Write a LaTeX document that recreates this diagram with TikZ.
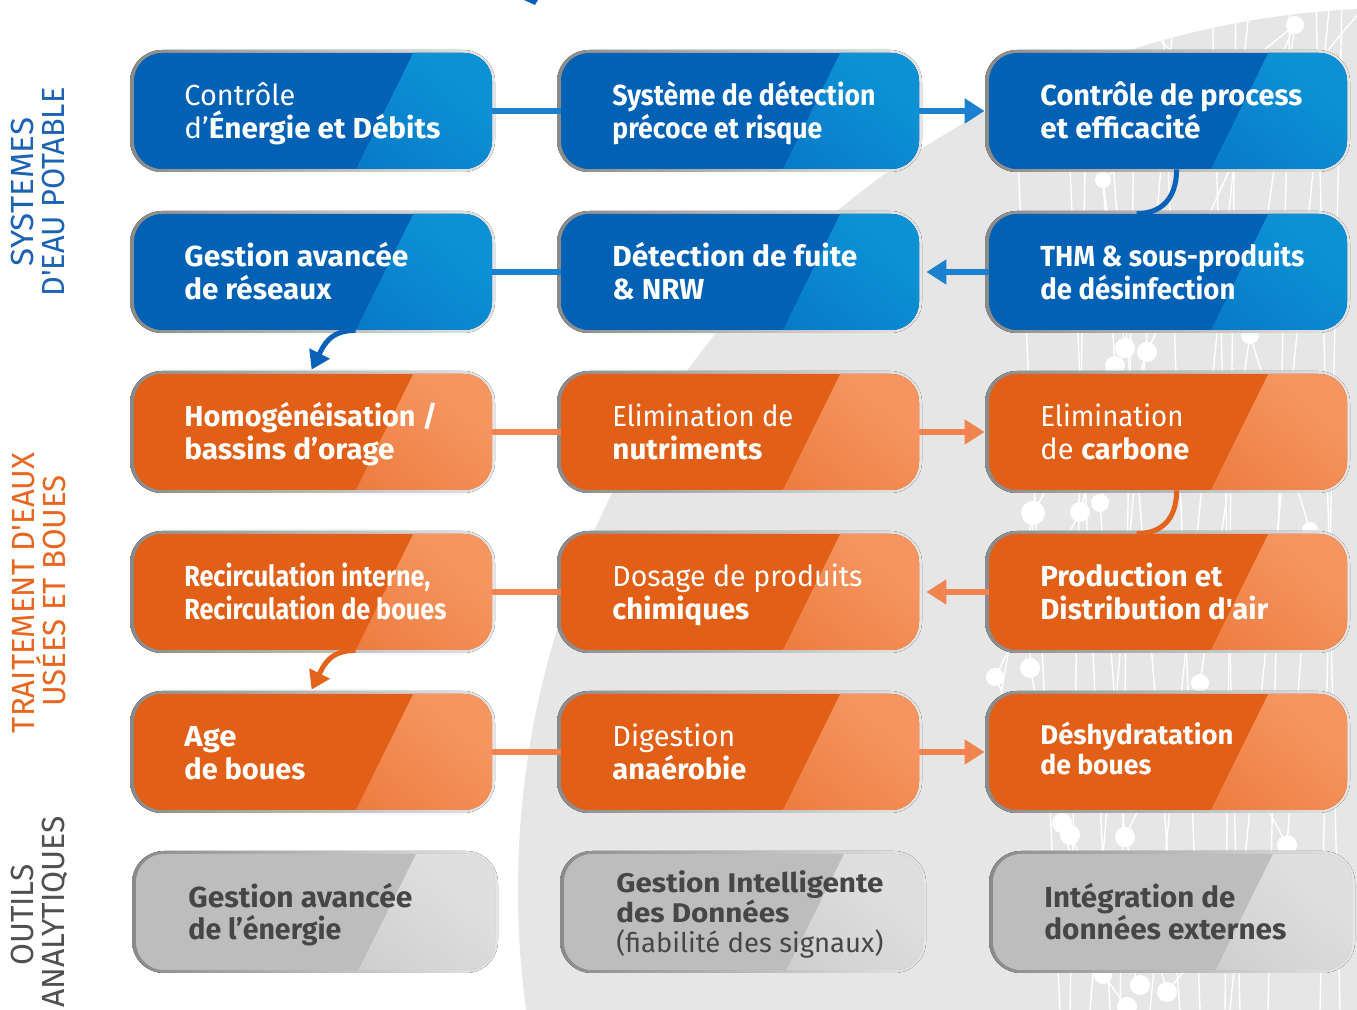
\documentclass[tikz,border=0pt]{standalone}
\usepackage{fontspec}
\usepackage{graphicx}
\setmainfont{Fira Sans}[Ligatures=TeXOff]
\newcommand\flight{\mdseries}
\newcommand\fsemi{\bfseries}
\usetikzlibrary{arrows.meta,calc,fit}

\definecolor{bbase}{HTML}{0061B5}
\definecolor{bmid}{HTML}{0568C0}
\definecolor{blight}{HTML}{0C91D4}
\definecolor{obase}{HTML}{E15F16}
\definecolor{omid}{HTML}{E66A28}
\definecolor{olight}{HTML}{F5955F}
\definecolor{gbase}{HTML}{BDBDBD}
\definecolor{gmid}{HTML}{C2C2C2}
\definecolor{glight}{HTML}{DFDFDF}
\definecolor{bordL}{HTML}{8A8A8A}
\definecolor{bordM}{HTML}{B5B5B5}
\definecolor{bordR}{HTML}{E6E6E6}
\definecolor{bgc}{HTML}{E6E6E6}
\definecolor{sideblue}{HTML}{1C63B4}
\definecolor{sideorange}{HTML}{E8661E}
\definecolor{sidegrey}{HTML}{505050}
\definecolor{gtext}{HTML}{464646}
\definecolor{bcon}{HTML}{1A80CF}
\definecolor{bcur}{HTML}{0A62B8}
\definecolor{ocon}{HTML}{F0834E}
\definecolor{ocur}{HTML}{E3621C}

\newcommand\W[2]{\resizebox{#1}{\height}{#2}}

% #1 name, #2 x1, #3 y1, #4 x2, #5 y2, #6 base, #7 mid, #8 light
\newcommand\panel[8]{%
  \fill[rounded corners=16pt, left color=bordL, middle color=bordM, right color=bordR] (#2,#3) rectangle (#4,#5);
  \node[inner sep=0pt, fit={(#2+4,#3+3) (#4-3,#5-3)}, rounded corners=14pt, fill=#6,
    path picture={\fill[sharp corners, top color=#8, bottom color=#7, shading angle=-40]
      ($(path picture bounding box.north west)!0.78!(path picture bounding box.north east)$) --
      (path picture bounding box.north east) -- (path picture bounding box.south east) --
      ($(path picture bounding box.south west)!0.62!(path picture bounding box.south east)$) -- cycle;}] (#1) {};
}

\begin{document}
\begin{tikzpicture}[x=0.5pt,y=-0.5pt,
  txt/.style={inner sep=0pt, anchor=base west, font=\fontsize{14.5}{16}\selectfont},
  stxt/.style={inner sep=0pt, anchor=base west, font=\fontsize{13.5}{15}\selectfont},
  wt/.style={txt, text=white},
  swt/.style={stxt, text=white},
  gt/.style={txt, text=gtext},
  sgt/.style={stxt, text=gtext},
  side/.style={inner sep=0pt, anchor=base, rotate=90, font=\flight\fontsize{16}{18}\selectfont},
  con/.style={line width=3pt},
  tip/.style={-{Triangle[length=10pt,width=12pt]}},
  cur/.style={line width=2.5pt},
  curtip/.style={-{Triangle[length=9pt,width=11pt]}},
  net/.style={white, line width=0.7pt},
  dot/.style={white}
]
\useasboundingbox (0,0) rectangle (1357,1010);
\fill[white] (0,0) rectangle (1357,1010);

% background circle with network
\begin{scope}
  \clip (0,0) rectangle (1357,1010);
  \fill[bgc] (1400,890) circle [radius=882];
  \clip (1400,890) circle [radius=882];
  \foreach \a/\b in {1010/1060, 1062/1110, 1088/1070, 1136/1120,
                     1162/1200, 1212/1240, 1236/1225, 1290/1268,
                     1316/1340, 1342/1320, 1100/1180, 1250/1150, 1330/1230, 1175/1090}
    \draw[net] (\a,0) -- (\b,1010);
  \foreach \xa/\ya/\xb/\yb in {1295/25/1103/180, 1295/25/1250/335, 1295/25/1147/352, 1103/180/1115/366,
                     1103/180/1125/348, 1125/348/1080/512, 1147/352/1100/503, 1250/335/1200/683,
                     1250/335/1310/530, 1115/366/1033/513, 1033/513/1030/668, 1080/512/995/677,
                     1100/503/1125/837, 1030/668/1062/823, 995/677/1070/835, 1200/683/1287/845,
                     1200/683/1125/837, 1062/823/1103/975, 1070/835/1140/985, 1125/837/1167/992,
                     1287/845/1167/992, 1103/975/1127/1007, 1310/530/1287/845, 1160/40/1180/60,
                     1357/15/1320/60, 1033/513/1000/700}
    \draw[net] (\xa,\ya) -- (\xb,\yb);
  \foreach \xa/\ya/\r in {1295/25/9, 1103/180/8, 1125/348/10, 1147/352/10, 1115/366/10, 1250/335/9,
                     1033/513/12, 1080/512/10, 1100/503/9, 1310/530/8, 1030/668/10, 995/677/9,
                     1200/683/9, 1062/823/10, 1070/835/10, 1125/837/10, 1287/845/10,
                     1103/975/9, 1140/985/10, 1167/992/10, 1127/1007/10}
    \fill[dot] (\xa,\ya) circle [radius=\r];
\end{scope}

% cut-off arrow tip at the top
\fill[bcur] (524,0) -- (538,0) -- (535,5) -- cycle;

% side labels
\node[side, text=sideblue] (s1a) at (34,192) {\W{74.5pt}{SYSTEMES}};
\node[side, text=sideblue] (s1b) at (65,192) {\W{104.5pt}{D'EAU POTABLE}};
\node[side, text=sideorange] (s2a) at (34,593) {\W{140pt}{TRAITEMENT D'EAUX}};
\node[side, text=sideorange] (s2b) at (65,591) {\W{116pt}{USÉES ET BOUES}};
\node[side, text=sidegrey] (s3a) at (34,915) {\W{50.5pt}{OUTILS}};
\node[side, text=sidegrey] (s3b) at (65,912) {\W{96pt}{ANALYTIQUES}};

% panels
\panel{b1}{130}{50}{495}{172}{bbase}{bmid}{blight}
\panel{b2}{557}{50}{922}{172}{bbase}{bmid}{blight}
\panel{b3}{985}{50}{1350}{172}{bbase}{bmid}{blight}
\panel{c1}{130}{211}{495}{333}{bbase}{bmid}{blight}
\panel{c2}{557}{211}{922}{333}{bbase}{bmid}{blight}
\panel{c3}{985}{211}{1350}{333}{bbase}{bmid}{blight}
\panel{d1}{130}{371}{495}{493}{obase}{omid}{olight}
\panel{d2}{557}{371}{922}{493}{obase}{omid}{olight}
\panel{d3}{985}{371}{1350}{493}{obase}{omid}{olight}
\panel{e1}{130}{531}{495}{653}{obase}{omid}{olight}
\panel{e2}{557}{531}{922}{653}{obase}{omid}{olight}
\panel{e3}{985}{531}{1350}{653}{obase}{omid}{olight}
\panel{f1}{130}{691}{495}{813}{obase}{omid}{olight}
\panel{f2}{557}{691}{922}{813}{obase}{omid}{olight}
\panel{f3}{985}{691}{1350}{813}{obase}{omid}{olight}
\panel{g1}{132}{851}{498}{973}{gbase}{gmid}{glight}
\panel{g2}{560}{851}{926}{973}{gbase}{gmid}{glight}
\panel{g3}{989}{851}{1355}{973}{gbase}{gmid}{glight}

% texts
\node[wt] (b1t1) at (184,106) {\flight\W{55.5pt}{Contrôle}};
\node[wt] (b1t2) at (184,139) {\W{128pt}{{\flight d’}\fsemi Énergie et Débits}};
\node[wt] (b2t1) at (612,106) {\fsemi\W{131.5pt}{Système de détection}};
\node[wt] (b2t2) at (612,139) {\fsemi\W{105pt}{précoce et risque}};
\node[wt] (b3t1) at (1040,106) {\fsemi\W{131pt}{Contrôle de process}};
\node[wt] (b3t2) at (1040,139) {\fsemi\W{80pt}{et efficacité}};

\node[wt] (c1t1) at (184,267) {\fsemi\W{112pt}{Gestion avancée}};
\node[wt] (c1t2) at (184,300) {\fsemi\W{73.5pt}{de réseaux}};
\node[wt] (c2t1) at (612,267) {\fsemi\W{122.5pt}{Détection de fuite}};
\node[wt] (c2t2) at (612,300) {\fsemi\W{46pt}{\& NRW}};
\node[wt] (c3t1) at (1040,267) {\fsemi\W{132pt}{THM \& sous-produits}};
\node[wt] (c3t2) at (1040,300) {\fsemi\W{97.5pt}{de désinfection}};

\node[wt] (d1t1) at (184,427) {\fsemi\W{126.5pt}{Homogénéisation /}};
\node[wt] (d1t2) at (184,460) {\fsemi\W{105pt}{bassins d’orage}};
\node[wt] (d2t1) at (612,427) {\flight\W{90.5pt}{Elimination de}};
\node[wt] (d2t2) at (612,460) {\fsemi\W{75pt}{nutriments}};
\node[wt] (d3t1) at (1040,427) {\flight\W{71.5pt}{Elimination}};
\node[wt] (d3t2) at (1040,460) {\W{74.5pt}{{\flight de }\fsemi carbone}};

\node[wt] (e1t1) at (184,587) {\fsemi\W{123pt}{Recirculation interne,}};
\node[wt] (e1t2) at (184,620) {\fsemi\W{131pt}{Recirculation de boues}};
\node[wt] (e2t1) at (612,587) {\flight\W{125pt}{Dosage de produits}};
\node[wt] (e2t2) at (612,620) {\fsemi\W{68.5pt}{chimiques}};
\node[wt] (e3t1) at (1040,587) {\fsemi\W{91pt}{Production et}};
\node[wt] (e3t2) at (1040,620) {\fsemi\W{114pt}{Distribution d'air}};

\node[wt] (f1t1) at (184,747) {\fsemi\W{26pt}{Age}};
\node[wt] (f1t2) at (184,780) {\fsemi\W{60.5pt}{de boues}};
\node[wt] (f2t1) at (612,747) {\flight\W{61.5pt}{Digestion}};
\node[wt] (f2t2) at (612,780) {\fsemi\W{67pt}{anaérobie}};
\node[swt] (f3t1) at (1040,745) {\fsemi\W{96.5pt}{Déshydratation}};
\node[swt] (f3t2) at (1040,775) {\fsemi\W{55.5pt}{de boues}};

\node[gt] (g1t1) at (188,907) {\fsemi\W{112pt}{Gestion avancée}};
\node[gt] (g1t2) at (188,940) {\fsemi\W{76.5pt}{de l’énergie}};
\node[sgt] (g2t1) at (616,893) {\fsemi\W{133.5pt}{Gestion Intelligente}};
\node[sgt] (g2t2) at (616,923) {\fsemi\W{86.5pt}{des Données}};
\node[sgt] (g2t3) at (616,953) {\flight\W{133.5pt}{(fiabilité des signaux)}};
\node[gt] (g3t1) at (1044,907) {\fsemi\W{95.5pt}{Intégration de}};
\node[gt] (g3t2) at (1044,940) {\fsemi\W{121pt}{données externes}};

% connectors: row 1-2 (blue)
\draw[con, bcon] (b1.east) -- (b2.west);
\draw[con, bcon, tip, shorten >=2pt] (b2.east) -- (b3.west);
\draw[cur, bcur] ($(b3.south west)+(188,0)$) .. controls ($(b3.south west)+(188,30)$) and ($(c3.north west)+(172,0)$) .. ($(c3.north west)+(148,0)$);
\draw[con, bcon, tip, shorten >=3.5pt] (c3.west) -- (c2.east);
\draw[con, bcon] (c2.west) -- (c1.east);
\draw[cur, bcur, curtip] ($(c1.south west)+(222,0)$) .. controls ($(c1.south west)+(196,0)$) and ($(d1.north west)+(190,-28)$) .. ($(d1.north west)+(178,-4)$);

% connectors: rows 3-5 (orange)
\draw[con, ocon] (d1.east) -- (d2.west);
\draw[con, ocon, tip, shorten >=2pt] (d2.east) -- (d3.west);
\draw[cur, ocur] ($(d3.south west)+(188,0)$) .. controls ($(d3.south west)+(188,30)$) and ($(e3.north west)+(172,0)$) .. ($(e3.north west)+(148,0)$);
\draw[con, ocon, tip, shorten >=3.5pt] (e3.west) -- (e2.east);
\draw[con, ocon] (e2.west) -- (e1.east);
\draw[cur, ocur, curtip] ($(e1.south west)+(222,0)$) .. controls ($(e1.south west)+(196,0)$) and ($(f1.north west)+(190,-28)$) .. ($(f1.north west)+(178,-4)$);
\draw[con, ocon] (f1.east) -- (f2.west);
\draw[con, ocon, tip, shorten >=2pt] (f2.east) -- (f3.west);
\end{tikzpicture}
\end{document}
